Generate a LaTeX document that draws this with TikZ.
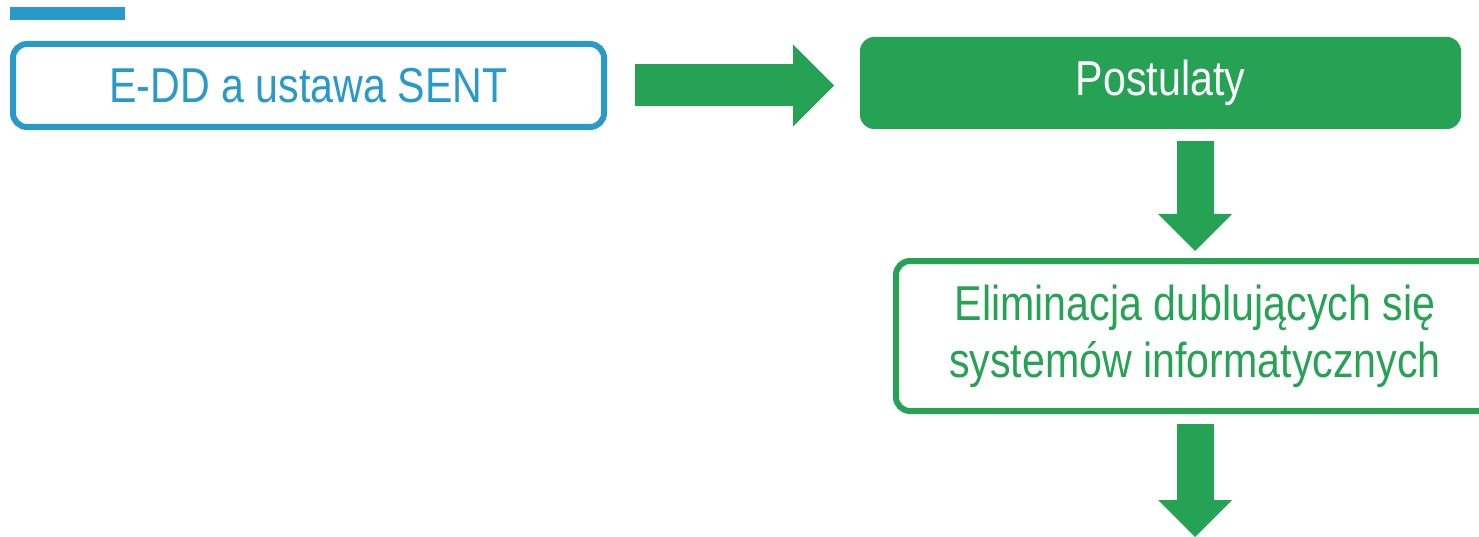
\documentclass[tikz,border=0pt]{standalone}
\usepackage{fontspec}
\setmainfont{Liberation Sans}[FakeStretch=0.84]
\usetikzlibrary{arrows.meta}
\definecolor{sentblue}{RGB}{39,154,202}
\definecolor{postgreen}{RGB}{38,162,85}
\tikzset{
  box/.style={rectangle, rounded corners=14pt, line width=6pt, align=center,
    font=\fontsize{49}{57}\selectfont, inner sep=0pt},
  blockarrow/.style={draw=postgreen, line width=#1},
}
\begin{document}
\begin{tikzpicture}[x=1pt,y=-1pt]
                \useasboundingbox (0,0) rectangle (1479,537);
                \fill[sentblue] (10,7) rectangle (125,20);

                \node[box, draw=sentblue, text=sentblue, minimum width=591pt, minimum height=83pt] (edd) at (308.5,85.5) {E-DD a ustawa SENT};
                \node[box, fill=postgreen, text=white, minimum width=601pt, minimum height=92pt] (post) at (1160.5,83) {Postulaty};
                \node[box, draw=postgreen, text=postgreen, minimum width=598pt, minimum height=150pt] (elim) at (1195,336) {Eliminacja dublujących się\\systemów informatycznych};
                \coordinate (next) at (1195,537);

                \draw[blockarrow=42pt, -{Triangle[length=41pt,width=82pt,line width=0pt]}, shorten <=28pt, shorten >=23pt] (edd.east) to (edd.east -| post.west);
                \draw[blockarrow=37pt, -{Triangle[length=37pt,width=74pt,line width=0pt]}, shorten <=9pt, shorten >=7pt] (post.south -| elim.north) to (elim.north);
                \draw[blockarrow=37pt, -{Triangle[length=37pt,width=74pt,line width=0pt]}, shorten <=10pt] (elim.south) to (next);
            \end{tikzpicture}
\end{document}
